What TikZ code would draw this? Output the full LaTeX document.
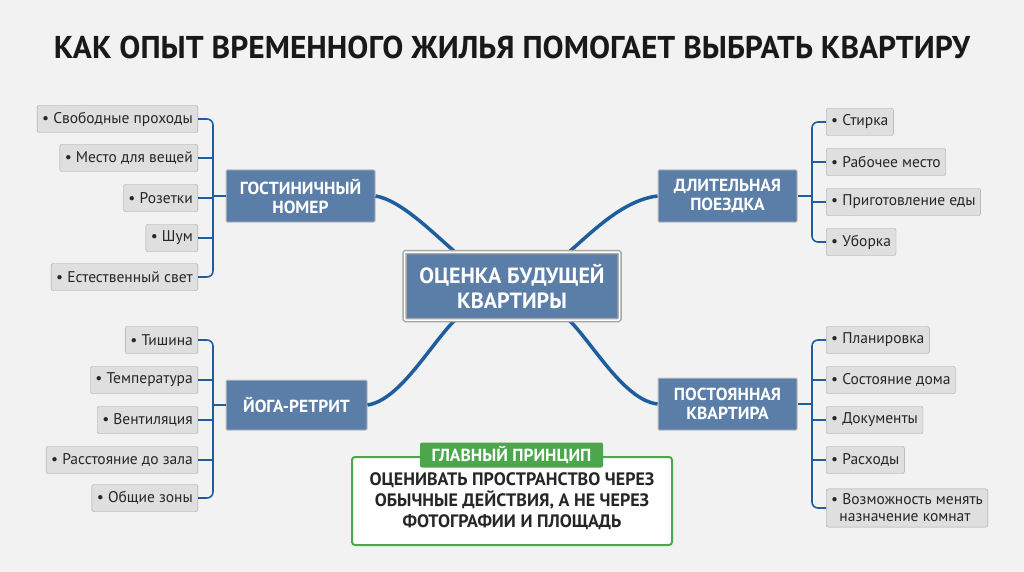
\documentclass[tikz,border=0pt]{standalone}
\usepackage{fontspec}
\setmainfont{PT Sans}
\begin{document}
\begin{tikzpicture}[x=1pt,y=-1pt,
 item/.style={draw=gray!70,fill=gray!25,rounded corners=2pt,font=\fontsize{15.5}{17}\selectfont,inner sep=5pt,minimum height=27pt,text=black!85},
 cat/.style={draw=gray!50,line width=1pt,fill=catblue,text=white,font=\bfseries\fontsize{17.5}{19}\selectfont,align=center,minimum height=52pt,rounded corners=1pt},
 br/.style={draw=linkblue,line width=1.6pt,rounded corners=6pt},
 link/.style={draw=linkblue,line width=3.5pt}]
\definecolor{catblue}{HTML}{5A7EA8}
\definecolor{linkblue}{HTML}{1F5E9E}
\definecolor{grn}{HTML}{4CA64C}
\fill[gray!10] (0,0) rectangle (1024,572);
\useasboundingbox (0,0) rectangle (1024,572);
\node[font=\bfseries\fontsize{31.5}{34}\selectfont,text=black!90] (title) at (512,47) {КАК ОПЫТ ВРЕМЕННОГО ЖИЛЬЯ ПОМОГАЕТ ВЫБРАТЬ КВАРТИРУ};
\coordinate (ch1) at (455,252);
\coordinate (ch2) at (569,252);
\coordinate (ch3) at (455,320);
\coordinate (ch4) at (569,320);
\coordinate (hl) at (213,196);
\coordinate (yl) at (213,405);
\coordinate (tr) at (812,196);
\coordinate (pr2) at (812,404);
\node[cat,minimum width=149pt] (h) at (300.5,196) {ГОСТИНИЧНЫЙ\\НОМЕР};
\node[cat,minimum width=139pt] (t) at (727.5,196) {ДЛИТЕЛЬНАЯ\\ПОЕЗДКА};
\node[cat,minimum width=141pt,minimum height=50pt] (y) at (296.5,405) {ЙОГА-РЕТРИТ};
\node[cat,minimum width=139pt] (p) at (727.5,404) {ПОСТОЯННАЯ\\КВАРТИРА};
\draw[link] (ch1) .. controls (430,230) and (400,200) .. (h.east);
\draw[link] (ch2) .. controls (594,230) and (624,200) .. (t.west);
\draw[link] (ch3) .. controls (430,345) and (400,400) .. (y.east);
\draw[link] (ch4) .. controls (594,345) and (624,400) .. (p.west);
\node[cat,minimum width=215pt,minimum height=68pt,font=\bfseries\fontsize{22}{25}\selectfont,draw=gray!70,line width=1.5pt,double=white,double distance=1.5pt] (c) at (512,286) {ОЦЕНКА БУДУЩЕЙ\\КВАРТИРЫ};
% left top
\foreach \n/\yy/\txt in {a1/119/Свободные проходы,a2/158/Место для вещей,a3/198/Розетки,a4/238/Шум,a5/277/Естественный свет}{
 \node[item,anchor=east] (\n) at (198,\yy) {• \txt};}
\draw[br] (a1.east) -| (hl) |- (a5.east);
\draw[br] (hl) -- (h.west);
% left bottom
\foreach \n/\yy/\txt in {b1/340/Тишина,b2/380/Температура,b3/420/Вентиляция,b4/460/Расстояние до зала,b5/498/Общие зоны}{
 \node[item,anchor=east] (\n) at (198,\yy) {• \txt};}
\draw[br] (b1.east) -| (yl) |- (b5.east);
\draw[br] (yl) -- (y.west);
% right top
\foreach \n/\yy/\txt in {r1/122/Стирка,r2/162/Рабочее место,r3/202/Приготовление еды,r4/242/Уборка}{
 \node[item,anchor=west] (\n) at (826,\yy) {• \txt};}
\draw[br] (r1.west) -| (tr) |- (r4.west);
\draw[br] (tr) -- (t.east);
% right bottom
\foreach \n/\yy/\txt in {s1/340/Планировка,s2/380/Состояние дома,s3/420/Документы,s4/460/Расходы}{
 \node[item,anchor=west] (\n) at (826,\yy) {• \txt};}
\node[item,anchor=west,align=left] (s5) at (826,508) {• Возможность менять\\\ \ назначение комнат};
\draw[br] (s1.west) -| (pr2) |- (s5.west);
\draw[br] (pr2) -- (p.east);
\foreach \n in {a2,a3,a4,b2,b3,b4}{\draw[linkblue,line width=1.6pt] (\n.east) -- ++(15,0);}
\foreach \n in {r2,r3,s2,s3,s4}{\draw[linkblue,line width=1.6pt] (\n.west) -- ++(-14,0);}
% principle
\node[draw=grn,line width=2pt,fill=white,rounded corners=3pt,minimum width=320pt,minimum height=88pt,align=center,
 font=\bfseries\fontsize{18}{21}\selectfont,text=black!85] (pr) at (512,501) {ОЦЕНИВАТЬ ПРОСТРАНСТВО ЧЕРЕЗ\\ОБЫЧНЫЕ ДЕЙСТВИЯ, А НЕ ЧЕРЕЗ\\ФОТОГРАФИИ И ПЛОЩАДЬ};
\node[fill=grn,text=white,font=\bfseries\fontsize{17.5}{19}\selectfont,minimum width=183pt,minimum height=25pt,rounded corners=2pt] (pl) at (511.5,455) {ГЛАВНЫЙ ПРИНЦИП};
\end{tikzpicture}
\end{document}
